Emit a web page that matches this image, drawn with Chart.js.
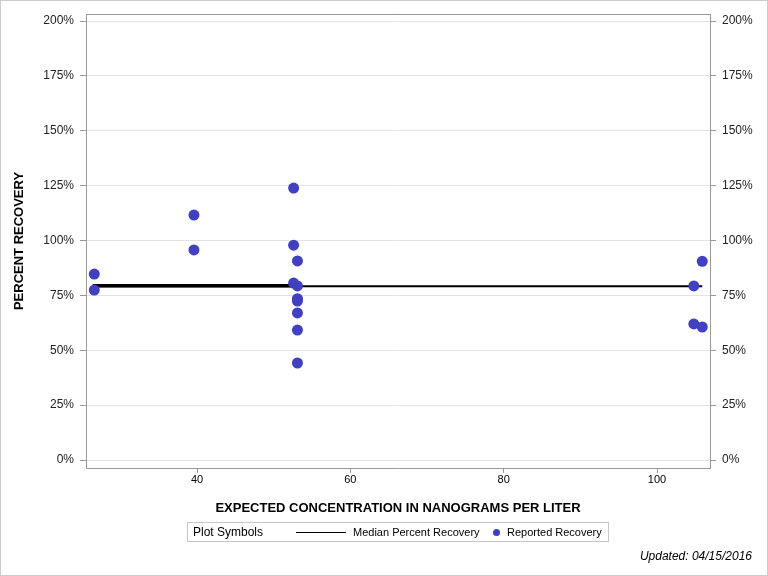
<!DOCTYPE html>
<html>
<head>
<meta charset="utf-8">
<script src="https://cdn.jsdelivr.net/npm/chart.js@4"></script>
<style>
  body { margin: 0; background: #fff; }
  #wrap { position: relative; width: 768px; height: 576px; font-family: "Liberation Sans", Arial, sans-serif; }
  #frame { position: absolute; left: 0; top: 0; width: 766px; height: 574px; border: 1px solid #ccc; pointer-events: none; }
  #legend { position: absolute; left: 187px; top: 522px; width: 420px; height: 18px; border: 1px solid #c8c8c8; font-size: 11px; color: #000; }
  #legend span { position: absolute; top: 3px; white-space: nowrap; }
  #footer { position: absolute; right: 16px; top: 549px; font-size: 12px; font-style: italic; color: #000; }
</style>
</head>
<body>
<div id="wrap">
  <canvas id="grafico"></canvas>
  <div id="legend">
    <span style="left:5px; top:2px; font-size:12px;">Plot Symbols</span>
    <div style="position:absolute; left:108px; top:9px; width:50px; height:1px; background:#000;"></div>
    <span style="left:165px;">Median Percent Recovery</span>
    <div style="position:absolute; left:305px; top:6px; width:7px; height:7px; border-radius:50%; background:rgb(64,64,192);"></div>
    <span style="left:319px;">Reported Recovery</span>
  </div>
  <div id="footer">Updated: 04/15/2016</div>
  <div id="frame"></div>
</div>
<script>
// valores
const recoveryX = [26.6, 26.6, 39.6, 39.6, 52.6, 52.6, 53.1, 52.6, 53.1, 53.1, 53.1, 53.1, 53.1, 53.1, 104.8, 105.9, 104.8, 105.9];
const recoveryPct = [84.7, 77.4, 111.6, 95.7, 123.9, 97.9, 90.7, 80.6, 79.3, 73.5, 72.4, 67.0, 59.2, 44.2, 79.3, 90.5, 62.0, 60.6];
const medianX = [26.4, 105.9];
const medianPct = [79.2, 79.2];
const medianLowX = [26.4, 53.1];
const medianLowPct = [79.4, 79.4];

const xMin = 25.52, xMax = 106.91;
const yMin = -3.64, yMax = 203.2;

const toPoints = (xs, ys) => xs.map((x, i) => ({ x: x, y: ys[i] }));
const regular = '"Liberation Sans", Arial, sans-serif';
const pct = v => v + '%';

const ctx = document.getElementById('grafico').getContext('2d');
new Chart(ctx, {
  type: 'scatter',
  data: {
    datasets: [
      {
        label: 'Reported Recovery',
        data: toPoints(recoveryX, recoveryPct),
        backgroundColor: 'rgb(64,64,192)',
        borderWidth: 0,
        pointRadius: 5.5
      },
      {
        label: 'Median Percent Recovery',
        data: toPoints(medianLowX, medianLowPct),
        showLine: true,
        borderColor: '#000',
        borderWidth: 3.5,
        pointRadius: 0
      },
      {
        label: 'Median Percent Recovery',
        data: toPoints(medianX, medianPct),
        showLine: true,
        borderColor: '#000',
        borderWidth: 2,
        pointRadius: 0
      }
    ]
  },
  options: {
    responsive: true,
    maintainAspectRatio: false,
    animation: false,
    plugins: { legend: { display: false }, tooltip: { enabled: false } },
    scales: {
      x: {
        type: 'linear', position: 'bottom', min: xMin, max: xMax,
        afterFit: s => { s.height = 108; },
        grid: { drawOnChartArea: false, tickLength: 5, tickColor: '#999' },
        border: { color: '#999' },
        ticks: { stepSize: 20, includeBounds: false, color: '#000', padding: 0, font: { family: regular, size: 11 } },
        title: { display: true, text: 'EXPECTED CONCENTRATION IN NANOGRAMS PER LITER', color: '#000',
                 font: { family: regular, size: 13, weight: 'bold' }, padding: { top: 0, bottom: 60 } }
      },
      x2: {
        type: 'linear', position: 'top', min: xMin, max: xMax,
        afterFit: s => { s.height = 14; },
        grid: { display: false },
        border: { color: '#999' },
        ticks: { display: false }
      },
      y: {
        position: 'left', min: yMin, max: yMax,
        afterFit: s => { s.width = 86; },
        grid: { color: '#e3e3e3', tickLength: 6, tickColor: '#999' },
        border: { color: '#999' },
        ticks: { stepSize: 25, includeBounds: false, color: '#222', padding: 6, callback: pct, font: { family: regular, size: 12 } },
        title: { display: true, text: 'PERCENT RECOVERY', color: '#000',
                 font: { family: regular, size: 13, weight: 'bold' }, padding: { top: 12, bottom: 0 } }
      },
      y2: {
        position: 'right', min: yMin, max: yMax,
        afterFit: s => { s.width = 58; },
        grid: { drawOnChartArea: false, tickLength: 6, tickColor: '#999' },
        border: { color: '#999' },
        ticks: { stepSize: 25, includeBounds: false, color: '#222', padding: 6, callback: pct, font: { family: regular, size: 12 } }
      }
    }
  }
});
</script>
</body>
</html>
